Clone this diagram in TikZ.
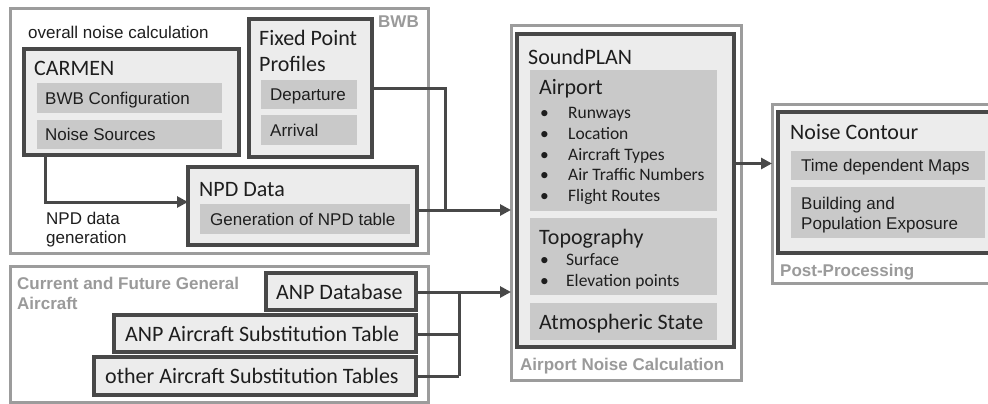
\documentclass[tikz,border=0pt]{standalone}
\usepackage{fontspec}
\usetikzlibrary{arrows.meta}
\newfontfamily\arialf{Liberation Sans}
\newfontfamily\calf{Carlito}
\definecolor{grpcol}{HTML}{9C9C9C}
\definecolor{lblcol}{HTML}{9A9A9A}
\definecolor{darkcol}{HTML}{484848}
\definecolor{dfill}{HTML}{ECECEC}
\definecolor{ifill}{HTML}{C9C9C9}
\definecolor{txtcol}{HTML}{1E1E1E}
\tikzset{
  grp/.style={draw=grpcol, line width=3pt, fill=white, inner sep=0pt, outer sep=0pt, anchor=north west},
  dbox/.style={draw=darkcol, line width=3.2pt, fill=dfill, inner sep=0pt, outer sep=0pt, anchor=north west},
  ibox/.style={fill=ifill, inner sep=0pt, outer sep=0pt, anchor=north west},
  ar/.style={font=\fontsize{17}{20}\selectfont\arialf, text=txtcol, inner sep=0pt, anchor=base west},
  cal/.style={font=\fontsize{22}{26}\selectfont\calf, text=txtcol, inner sep=0pt, anchor=base west},
  calsm/.style={font=\fontsize{17.5}{21}\selectfont\calf, text=txtcol, inner sep=0pt, anchor=base west},
  glbl/.style={font=\fontsize{17}{20}\selectfont\arialf\bfseries, text=lblcol, inner sep=0pt, anchor=base west},
  conn/.style={draw=darkcol, line width=3pt},
  arr/.style={conn, -{Triangle[length=11pt,width=11pt]}},
}
\begin{document}
\begin{tikzpicture}[x=1pt,y=-1pt]
\clip (0,0) rectangle (988,404);
% group boxes
\node[grp, minimum width=418pt, minimum height=244pt] (bwbgrp) at (10,9) {};
\node[grp, minimum width=418pt, minimum height=136pt] (curgrp) at (10,266) {};
\node[grp, minimum width=230pt, minimum height=354pt] (ancgrp) at (511,26) {};
\node[grp, minimum width=230pt, minimum height=179pt] (postgrp) at (772,104) {};
% group labels
\node[glbl, anchor=base east] (lbwb) at (419,28) {BWB};
\node[glbl] (lcur1) at (17,289) {Current and Future General};
\node[glbl] (lcur2) at (17,309) {Aircraft};
\node[glbl] (lanc) at (520,370) {Airport Noise Calculation};
\node[glbl] (lpost) at (780,276) {Post-Processing};
% BWB group
\node[ar] (tonc) at (28,39) {overall noise calculation};
\node[dbox, minimum width=215pt, minimum height=106pt] (carmen) at (24,49) {};
\node[cal] (tcarmen) at (34,75) {CARMEN};
\node[ibox, minimum width=185pt, minimum height=30pt] (bwbconf) at (37,83) {};
\node[ar] (tbwbconf) at (45,104) {BWB Configuration};
\node[ibox, minimum width=185pt, minimum height=29pt] (noisesrc) at (37,120) {};
\node[ar] (tnoisesrc) at (45,140.5) {Noise Sources};

\node[dbox, minimum width=123pt, minimum height=138pt] (fpp) at (249,19) {};
\node[cal] (tfpp1) at (259,46) {Fixed Point};
\node[cal] (tfpp2) at (259,71) {Profiles};
\node[ibox, minimum width=96pt, minimum height=29pt] (dep) at (261,80) {};
\node[ar] (tdep) at (270,100.5) {Departure};
\node[ibox, minimum width=96pt, minimum height=30pt] (arrv) at (261,115) {};
\node[ar] (tarr) at (270,136) {Arrival};

\node[dbox, minimum width=229pt, minimum height=78pt] (npd) at (188,167) {};
\node[cal] (tnpd) at (199,196) {NPD Data};
\node[ibox, minimum width=210pt, minimum height=30pt] (gennpd) at (200,204) {};
\node[ar] (tgennpd) at (210,225) {Generation of NPD table};
\node[ar] (tnpdgen1) at (46,224) {NPD data};
\node[ar] (tnpdgen2) at (46,243) {generation};

% current and future group
\node[dbox, minimum width=150pt, minimum height=37pt] (anpdb) at (266,273) {};
\node[cal] (tanpdb) at (276,299) {ANP Database};
\node[dbox, minimum width=302pt, minimum height=37pt] (anpsub) at (114,315) {};
\node[cal] (tanpsub) at (125,341) {ANP Aircraft Substitution Table};
\node[dbox, minimum width=322pt, minimum height=38pt] (othsub) at (94,357) {};
\node[cal] (tothsub) at (105,383) {other Aircraft Substitution Tables};

% SoundPLAN
\node[dbox, minimum width=217pt, minimum height=313pt] (sp) at (517,34) {};
\node[cal] (tsp) at (528,64) {SoundPLAN};
\node[ibox, minimum width=187pt, minimum height=141pt] (airport) at (530,70) {};
\node[cal] (tairport) at (539,95) {Airport};
\node[calsm] (b1) at (540,118.5) {•};
\node[calsm] (i1) at (568,118.5) {Runways};
\node[calsm] (b2) at (540,139) {•};
\node[calsm] (i2) at (568,139) {Location};
\node[calsm] (b3) at (540,160) {•};
\node[calsm] (i3) at (568,160) {Aircraft Types};
\node[calsm] (b4) at (540,180.5) {•};
\node[calsm] (i4) at (568,180.5) {Air Traffic Numbers};
\node[calsm] (b5) at (540,201.5) {•};
\node[calsm] (i5) at (568,201.5) {Flight Routes};
\node[ibox, minimum width=187pt, minimum height=77pt] (topo) at (530,218) {};
\node[cal] (ttopo) at (539,244) {Topography};
\node[calsm] (b6) at (540,265.5) {•};
\node[calsm] (i6) at (566,265.5) {Surface};
\node[calsm] (b7) at (540,286.5) {•};
\node[calsm] (i7) at (566,286.5) {Elevation points};
\node[ibox, minimum width=187pt, minimum height=37pt] (atmo) at (530,303) {};
\node[cal] (tatmo) at (539,329) {Atmospheric State};

% Noise contour
\node[dbox, minimum width=222pt, minimum height=141pt] (nc) at (778,112) {};
\node[cal] (tnc) at (790,139) {Noise Contour};
\node[ibox, minimum width=194pt, minimum height=29pt] (tdm) at (791,151) {};
\node[ar] (ttdm) at (801,171.5) {Time dependent Maps};
\node[ibox, minimum width=194pt, minimum height=51pt] (bpe) at (791,187) {};
\node[ar] (tbpe1) at (801,209) {Building and};
\node[ar] (tbpe2) at (801,229) {Population Exposure};

% connectors
\coordinate (j1) at (445,210);
\coordinate (j2) at (459,292);
\draw[arr] (carmen.south west -| 45,0) -- (45,202) -- (npd.west |- 0,202);
\draw[conn] (fpp.east |- 0,88) -- (445,88) -- (j1);
\draw[conn] (npd.east |- j1) -- (j1);
\draw[arr] (j1) -- (ancgrp.west |- j1);
\draw[arr] (anpdb.east |- j2) -- (ancgrp.west |- j2);
\draw[conn] (j2) -- (459,376);
\draw[conn] (anpsub.east |- 0,334) -- (459,334);
\draw[conn] (othsub.east |- 0,376) -- (459,376);
\draw[arr] (sp.east |- 0,163.5) -- (postgrp.west |- 0,163.5);
\end{tikzpicture}
\end{document}
